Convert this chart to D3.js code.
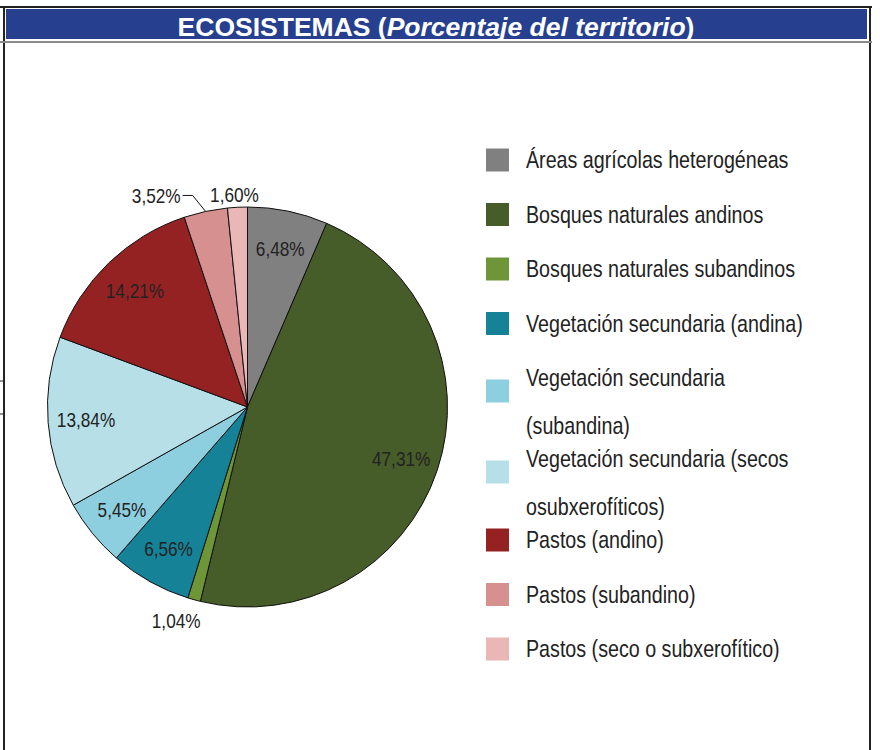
<!DOCTYPE html>
<html>
<head>
<meta charset="utf-8">
<script src="https://cdn.jsdelivr.net/npm/d3@7"></script>
<style>
  html, body { margin: 0; padding: 0; background: #fff; }
  svg { display: block; }
</style>
</head>
<body>
<svg id="chart" width="880" height="750"></svg>
<script>
// Land-cover categories, shares of the territory (%) and slice colours
const categories = [
  "Áreas agrícolas heterogéneas",
  "Bosques naturales andinos",
  "Bosques naturales subandinos",
  "Vegetación secundaria (andina)",
  "Vegetación secundaria|(subandina)",
  "Vegetación secundaria (secos|osubxerofíticos)",
  "Pastos (andino)",
  "Pastos (subandino)",
  "Pastos (seco o subxerofítico)"
];
const values = [6.48, 47.31, 1.04, 6.56, 5.45, 13.84, 14.21, 3.52, 1.60];
const colors = ["#808080", "#465c29", "#6e9638", "#168298", "#8ecfdf",
                "#b6dfe8", "#952222", "#d69090", "#e8b7b6"];
// how each percentage label is placed: inside the slice, outside, or with a leader line
const labelModes = ["in", "in", "out", "in", "in", "in", "in", "leader", "top"];

const svg = d3.select("#chart");
const W = 880, H = 750;
const font = "'Liberation Sans', Arial, sans-serif";
const squeeze = 0.82; // condensed lettering for labels and legend

// place a condensed text element at (x, y)
function putText(sel, x, y) {
  return sel.attr("x", 0).attr("y", 0)
    .attr("transform", `translate(${x},${y}) scale(${squeeze},1)`);
}

// ---- frame and title bar ----
const frame = svg.append("g");
frame.append("line").attr("x1", 0).attr("x2", 872).attr("y1", 7).attr("y2", 7)
  .attr("stroke", "#222").attr("stroke-width", 2);
frame.append("line").attr("x1", 4).attr("x2", 4).attr("y1", 6).attr("y2", H)
  .attr("stroke", "#222").attr("stroke-width", 2);
frame.append("line").attr("x1", 870).attr("x2", 870).attr("y1", 6).attr("y2", H)
  .attr("stroke", "#222").attr("stroke-width", 2);
frame.append("line").attr("x1", 0).attr("x2", 872).attr("y1", 42).attr("y2", 42)
  .attr("stroke", "#8a8a8a").attr("stroke-width", 2);
frame.append("rect").attr("x", 6).attr("y", 9).attr("width", 861).attr("height", 30)
  .attr("fill", "#263f8f");
[381, 414].forEach(y => frame.append("line")
  .attr("x1", 0).attr("x2", 4).attr("y1", y).attr("y2", y)
  .attr("stroke", "#222").attr("stroke-width", 1));

const title = svg.append("text")
  .attr("x", 436).attr("y", 35.5)
  .attr("text-anchor", "middle")
  .attr("fill", "#fff")
  .attr("font-family", font)
  .attr("font-weight", "bold")
  .attr("font-size", 26.5);
title.append("tspan").text("ECOSISTEMAS (");
title.append("tspan").attr("font-style", "italic").text("Porcentaje del territorio");
title.append("tspan").text(")");

// ---- pie ----
const cx = 247.5, cy = 407, R = 200;
const pie = d3.pie().sort(null).value(d => d)
  .startAngle(0).endAngle(2 * Math.PI);
const arcs = pie(values);
const arc = d3.arc().innerRadius(0).outerRadius(R);
const labelArc = d3.arc().innerRadius(R * 0.81).outerRadius(R * 0.81);
const outArc = d3.arc().innerRadius(R * 1.11).outerRadius(R * 1.11);
const edgeArc = d3.arc().innerRadius(R).outerRadius(R);

const gPie = svg.append("g").attr("transform", `translate(${cx},${cy})`);
gPie.selectAll("path.slice").data(arcs).join("path")
  .attr("class", "slice")
  .attr("d", arc)
  .attr("fill", (d, i) => colors[i])
  .attr("stroke", "#111")
  .attr("stroke-width", 1);

const fmt = v => v.toFixed(2).replace(".", ",") + "%";

arcs.forEach((d, i) => {
  const mode = labelModes[i];
  const t = gPie.append("text")
    .attr("font-family", font)
    .attr("font-size", 21)
    .attr("fill", "#222")
    .text(fmt(values[i]));
  if (mode === "in") {
    const [x, y] = labelArc.centroid(d);
    putText(t, x, y).attr("dy", "0.35em").attr("text-anchor", "middle");
  } else if (mode === "out") {
    const [x, y] = outArc.centroid(d);
    putText(t, x - 12, y).attr("dy", "0.35em").attr("text-anchor", "middle");
  } else if (mode === "leader") {
    const [ex, ey] = edgeArc.centroid(d);
    const elbow = [ex - 13, ey - 16];
    const end = [elbow[0] - 10, elbow[1]];
    gPie.append("polyline")
      .attr("points", [[ex, ey], elbow, end].map(p => p.join(",")).join(" "))
      .attr("fill", "none").attr("stroke", "#111").attr("stroke-width", 1);
    putText(t, end[0] - 2, end[1]).attr("dy", "0.35em").attr("text-anchor", "end");
  } else {
    const [ex, ey] = edgeArc.centroid(d);
    putText(t, ex - 3, ey - 5).attr("text-anchor", "middle");
  }
});

// ---- legend ----
const legend = svg.append("g").attr("font-family", font).attr("font-size", 24).attr("fill", "#222");
let yCursor = 160;
categories.forEach((name, i) => {
  const lines = name.split("|");
  const sqY = yCursor + (lines.length - 1) * 13;
  legend.append("rect")
    .attr("x", 486).attr("y", sqY - 11.5).attr("width", 23).attr("height", 23)
    .attr("fill", colors[i]);
  lines.forEach((ln, k) => {
    putText(legend.append("text"), 526, yCursor + k * 48)
      .attr("dy", "0.35em")
      .text(ln);
  });
  yCursor += lines.length > 1 ? 81 : 54.5;
});
</script>
</body>
</html>
